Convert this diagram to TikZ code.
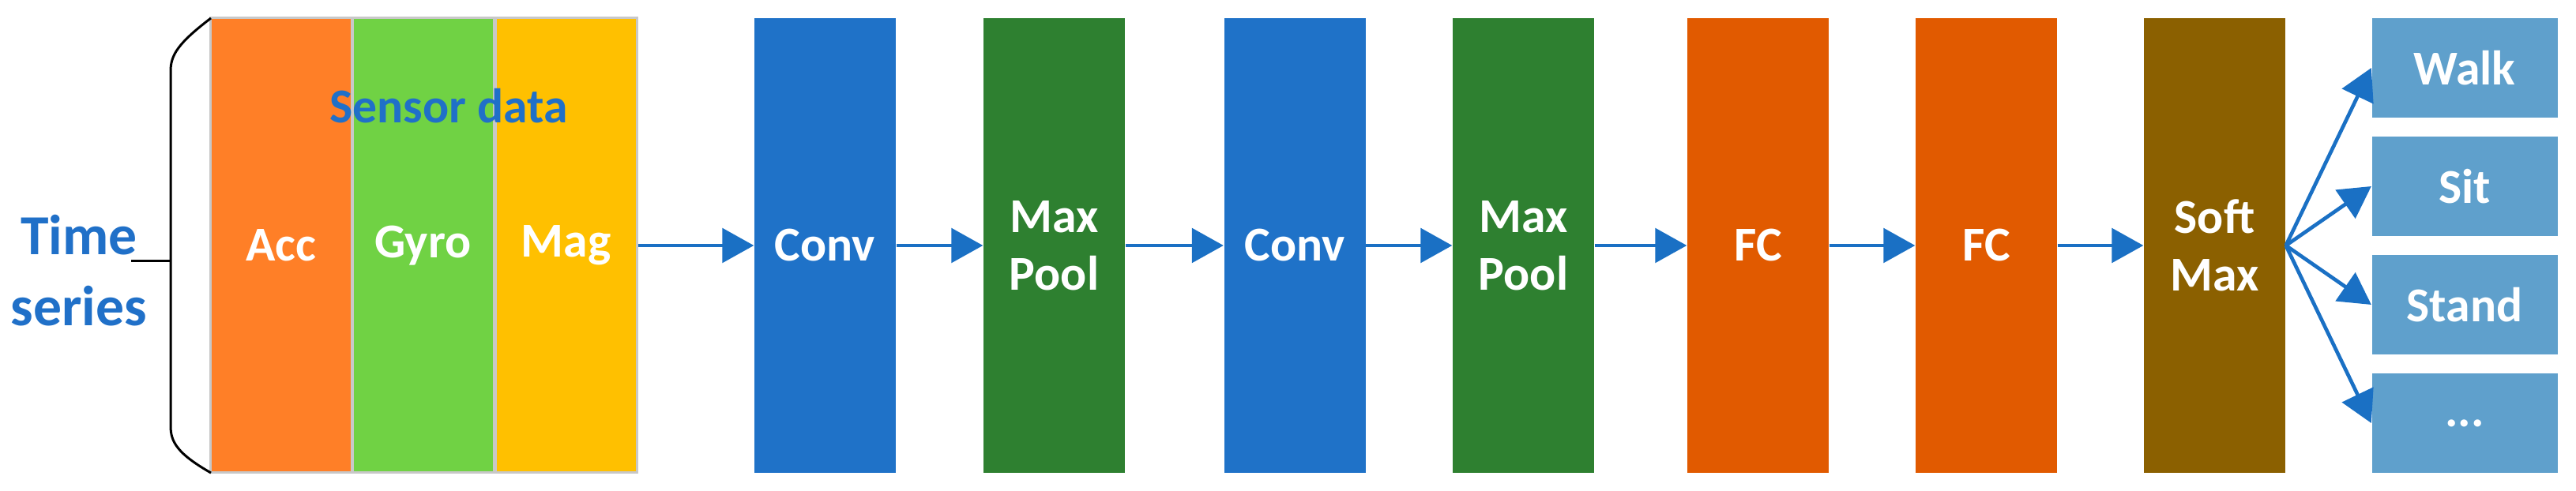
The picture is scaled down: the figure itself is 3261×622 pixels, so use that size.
\documentclass[tikz,border=0pt]{standalone}
\usepackage{fontspec}
\setmainfont{Carlito}
\usetikzlibrary{arrows.meta}
\definecolor{cacc}{HTML}{FF7F27}
\definecolor{cgyro}{HTML}{70D244}
\definecolor{cmag}{HTML}{FFC000}
\definecolor{cconv}{HTML}{1F72C8}
\definecolor{cpool}{HTML}{2E8030}
\definecolor{cfc}{HTML}{E15A00}
\definecolor{csoft}{HTML}{8B6000}
\definecolor{cout}{HTML}{5FA0CC}
\definecolor{ctxt}{HTML}{2070C8}
\definecolor{carr}{HTML}{1A70C4}
\tikzset{
 lay/.style={draw=none,minimum width=53.7pt,minimum height=172.8pt,inner sep=0pt,text=white,align=center,font=\bfseries\fontsize{18.5}{22}\selectfont},
 sens/.style={lay,draw={rgb,255:red,200;green,200;blue,200},line width=0.9pt},
 outb/.style={lay,fill=cout,minimum width=70.5pt,minimum height=37.8pt},
 arr/.style={draw=carr,line width=1.4pt,-{Triangle[length=12pt,width=13pt]}},
}
\begin{document}
\begin{tikzpicture}[x=0.3pt,y=-0.3pt]
\useasboundingbox (0,0) rectangle (3261,622);
\node[sens,fill=cacc] (acc) at (355.5,311) {Acc};
\node[sens,fill=cgyro] (gyro) at (535.5,311) {Gyro};
\node[sens,fill=cmag] (mag) at (716.5,311) {Mag};
\node[text=ctxt,font=\bfseries\fontsize{18.5}{22}\selectfont] (sd) at (568,134) {Sensor data};
\node[text=ctxt,align=center,font=\bfseries\fontsize{21.5}{27}\selectfont] (ts) at (100,343) {Time\\series};
\draw[line width=0.9pt] (267,23) .. controls (225,55) and (216,70) .. (216,90) -- (216,540) .. controls (216,560) and (225,575) .. (267,599);
\coordinate (tk) at (166,331);
\draw[line width=0.9pt] (tk) -- (216,331);
\node[lay,fill=cconv] (c1) at (1044.5,311) {Conv};
\node[lay,fill=cpool] (p1) at (1334.5,311) {Max\\Pool};
\node[lay,fill=cconv] (c2) at (1639,311) {Conv};
\node[lay,fill=cpool] (p2) at (1928.5,311) {Max\\Pool};
\node[lay,fill=cfc] (f1) at (2225.5,311) {FC};
\node[lay,fill=cfc] (f2) at (2514.5,311) {FC};
\node[lay,fill=csoft] (sm) at (2803.5,311) {Soft\\Max};
\node[outb] (o1) at (3120,86) {Walk};
\node[outb] (o2) at (3120,236) {Sit};
\node[outb] (o3) at (3120,386) {Stand};
\node[outb] (o4) at (3120,536) {...};
\draw[arr] (mag) -- (c1);
\draw[arr] (c1) -- (p1);
\draw[arr] (p1) -- (c2);
\draw[arr] (c2) -- (p2);
\draw[arr] (p2) -- (f1);
\draw[arr] (f1) -- (f2);
\draw[arr] (f2) -- (sm);
\foreach \o in {o1,o2,o3,o4} \draw[arr] (sm.east) -- (\o.west);
\end{tikzpicture}
\end{document}
